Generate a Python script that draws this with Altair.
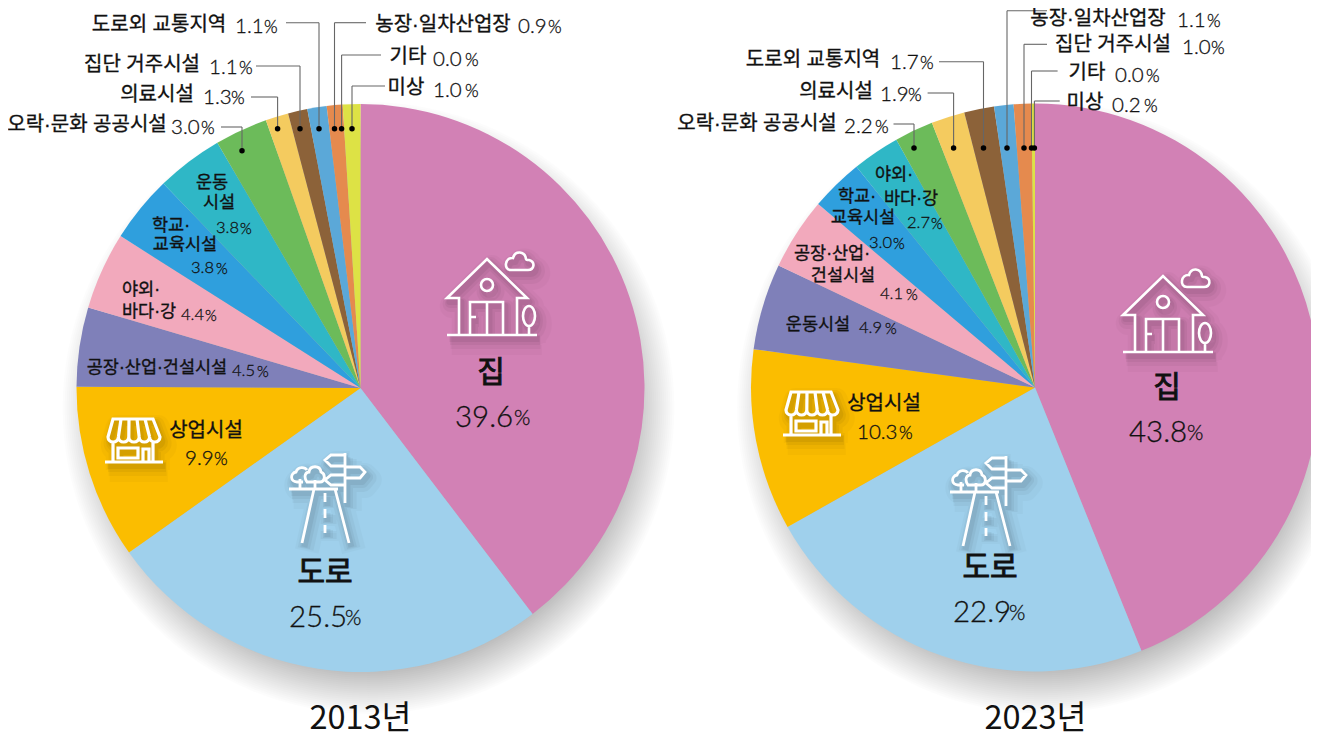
import math
import altair as alt
import pandas as pd

# ---------- data ----------
categories_2013 = ["집", "도로", "상업시설", "공장·산업·건설시설", "야외·바다·강", "학교·교육시설", "운동시설",
                   "오락·문화 공공시설", "의료시설", "집단 거주시설", "도로외 교통지역", "농장·일차산업장", "기타", "미상"]
values_2013 = [39.6, 25.5, 9.9, 4.5, 4.4, 3.8, 3.8, 3.0, 1.3, 1.1, 1.1, 0.9, 0.0, 1.0]
categories_2023 = ["집", "도로", "상업시설", "운동시설", "공장·산업·건설시설", "학교·교육시설", "야외·바다·강",
                   "오락·문화 공공시설", "의료시설", "도로외 교통지역", "농장·일차산업장", "집단 거주시설", "기타", "미상"]
values_2023 = [43.8, 22.9, 10.3, 4.9, 4.1, 3.0, 2.7, 2.2, 1.9, 1.7, 1.1, 1.0, 0.0, 0.2]
slice_colors = ["#D281B5", "#9FD0EC", "#FBBD00", "#7F80B9", "#F2A9BC", "#2F9FDD", "#2FB7C6",
                "#6CBB5A", "#F4CB5F", "#8C6239", "#5BA8D8", "#E58A4E", "#999999", "#DDE245"]

# ---------- layout ----------
W, H = 1303, 729
M = 8
R = 284
C1 = (360.5, 388)
C2 = (1035, 387.5)
KO = '"Liberation Sans", "Noto Sans CJK KR"'
YEAR = "Noto Sans CJK KR"
NUM = "Lato"
val13 = dict(zip(categories_2013, values_2013))
val23 = dict(zip(categories_2023, values_2023))


def pie(cats, vals, c):
    df = pd.DataFrame({"category": cats, "value": vals, "rank": list(range(1, len(cats) + 1))})
    return alt.Chart(df).mark_arc(radius=R, strokeWidth=0).encode(
        theta=alt.Theta("value:Q", stack="normalize"),
        order=alt.Order("rank:Q"),
        color=alt.Color("rank:O", scale=alt.Scale(domain=list(range(1, 15)), range=slice_colors), legend=None),
        x=alt.value(c[0] - M),
        y=alt.value(c[1] - M),
    )


# shadow discs
discs = []
for c in (C1, C2):
    for r in range(258, 308, 2):
        discs.append({"x": c[0] - M + 8, "y": c[1] - M + 20, "r": r})
shadow = alt.Chart(pd.DataFrame(discs)).mark_arc(theta=0, theta2=2 * math.pi, color="black", opacity=0.011).encode(
    x=alt.X("x:Q", scale=None, axis=None),
    y=alt.Y("y:Q", scale=None, axis=None),
    radius=alt.Radius("r:Q", scale=None, stack=False),
)

# icons: paths drawn in pixels around the anchor (size=4 gives unit scale)
HOUSE = ("M-40,35 H50 M-28,35 V-2 H-40 L0,-41 L40,-2 H30 V35 "
         "M-6,-15 A6,6 0 1,1 6,-15 A6,6 0 1,1 -6,-15 "
         "M-17,35 V2 H16 V35 M0,2 V35 M-17,17 H-11 "
         "M36,16 A6,10 0 1,1 48,16 A6,10 0 1,1 36,16 M42,26 V35 "
         "M24,-30 H41 C47,-30 49,-38 42,-40 C40,-40 39,-40 39,-41 C38,-49 28,-50 26,-42 C18,-43 16,-30 24,-30 Z")
ROAD = ("M-36,-8 H13 M-11,-8 L-23,46 M10,-8 L24,46 "
        "M0,-4 V5 M0,12 V21 M0,28 V36 M20,-44 V6 "
        "M20,-42 H6 L0,-37 L6,-31 H20 M20,-30 H35 L40,-25 L35,-19 H20 M20,-22 H6 L0,-17 L6,-12 H20 "
        "M-25,-8 V-18 M-10,-8 V-17 "
        "M-22,-15 H-28 C-35,-15 -35,-24 -29,-25 C-27,-31 -20,-30 -18,-27 "
        "M-18,-15 C-22,-21 -19,-25 -16,-25 C-15,-32 -5,-32 -4,-25 C1,-23 0,-15 -5,-15 H-18 Z")
SHOP = ("M-29,22 H29 M-21,-21 H19 L26,-3 A5.2,5 0 0,1 15.6,-3 A5.2,5 0 0,1 5.2,-3 A5.2,5 0 0,1 -5.2,-3 "
        "A5.2,5 0 0,1 -15.6,-3 A5.2,5 0 0,1 -26,-3 Z "
        "M-13,-21 L-15.6,-3 M-5,-21 L-5.2,-3 M3,-21 L5.2,-3 M11,-21 L15.6,-3 "
        "M-21,2 V22 M19,2 V22 M-16,8 H4 V18 H-16 Z M9,22 V9 H15 V22")


def icon(path, ax, ay, sw):
    out = []
    one = pd.DataFrame({"x": [ax - M], "y": [ay - M]})
    for w, o, d in ((24, 0.02, 8), (16, 0.03, 6), (10, 0.04, 5), (6, 0.05, 4)):
        out.append(alt.Chart(one).mark_point(shape=path, size=4, filled=False, stroke="#000000",
                                             strokeWidth=w, opacity=o, strokeJoin="round").encode(
            x=alt.value(ax - M + d * 0.6), y=alt.value(ay - M + d)))
    out.append(alt.Chart(one).mark_point(shape=path, size=4, filled=False, stroke="white", strokeWidth=sw,
                                         opacity=1).encode(x=alt.value(ax - M), y=alt.value(ay - M)))
    return out


icons = []
for p, ax, ay, sw in ((HOUSE, 487, 300, 2.6), (ROAD, 325, 497, 2.8), (SHOP, 134, 440, 3.2),
                      (HOUSE, 1163, 317, 2.6), (ROAD, 986, 500, 2.8), (SHOP, 812, 413, 3.2)):
    icons += icon(p, ax, ay, sw)

# outer labels: category, name centre x, name y, number left, percent left, number y, elbow points, dot
outer = [
    (val13, "도로외 교통지역", 159, 25, 235, 264, 27, (286, 22.7), (319, 128.7)),
    (val13, "농장·일차산업장", 443, 25, 518, 548, 27, (366, 22.7), (334.5, 128.7)),
    (val13, "기타", 408, 57, 433, 465, 60, (381, 55), (341.6, 128.7)),
    (val13, "미상", 406, 88, 433, 465, 91, (385, 86), (352, 128.7)),
    (val13, "집단 거주시설", 142, 65, 209, 239, 68, (256, 66), (300, 128.7)),
    (val13, "의료시설", 157, 95, 203, 231, 98, (251, 97), (277.6, 128.7)),
    (val13, "오락·문화 공공시설", 87, 125, 171, 201, 128, (221, 127), (242, 150.7)),
    (val23, "농장·일차산업장", 1098, 19, 1177, 1207, 21, (1047, 10.7), (1007, 148)),
    (val23, "집단 거주시설", 1113, 45, 1182, 1211, 48, (1047, 44.3), (1024, 148)),
    (val23, "기타", 1087, 73, 1115, 1146, 76, (1057.6, 71), (1031.5, 148)),
    (val23, "미상", 1085, 103, 1112, 1144, 106, (1059.7, 101), (1034.4, 148)),
    (val23, "도로외 교통지역", 813, 60, 890, 920, 63, (939, 61.7), (983.5, 148)),
    (val23, "의료시설", 836, 92, 880, 908, 95, (927.6, 93), (953.6, 148)),
    (val23, "오락·문화 공공시설", 757, 124, 844, 875, 127, (893.5, 124), (914, 148)),
]
# inner labels: lines (text, centre x, y), number left, percent left, number y
inner = [
    (val13, "운동시설", [("운동", 212, 183), ("시설", 219, 203)], 216, 240, 228),
    (val13, "학교·교육시설", [("학교·", 171, 226), ("교육시설", 185, 245)], 191, 216, 268),
    (val13, "야외·바다·강", [("야외·", 141, 290), ("바다·강", 149, 312)], 181, 205, 315),
    (val13, "공장·산업·건설시설", [("공장·산업·건설시설", 157, 368)], 232, 257, 371),
    (val23, "운동시설", [("운동시설", 818, 325)], 859, 885, 328),
    (val23, "공장·산업·건설시설", [("공장·산업·", 832, 254), ("건설시설", 843, 276)], 880, 906, 294),
    (val23, "학교·교육시설", [("학교·", 857, 197), ("교육시설", 863, 218)], 869, 893, 243),
    (val23, "야외·바다·강", [("야외·", 894, 175), ("바다·강", 911, 199)], 907, 931, 223),
]
# larger labels: text, centre x, y, size, bold, number left, percent left, number y, number size, percent size
major = [
    (val13, "상업시설", 206, 431, 20, "normal", 185, 214, 459, 20.5, 17.5),
    (val13, "집", 491, 373, 30, "bold", 455, 514, 418, 29.5, 21),
    (val13, "도로", 325, 573, 30, "bold", 289, 345, 618, 29.5, 21),
    (val23, "상업시설", 884, 404, 20, "normal", 857, 899, 433, 20.5, 17.5),
    (val23, "집", 1167, 388, 30, "bold", 1129, 1187, 433, 29.5, 21),
    (val23, "도로", 990, 568, 30, "bold", 953, 1009, 613, 29.5, 21),
]
years = [("2013년", 360.5, 719), ("2023년", 1035.5, 719)]

names, nums, bolds, segs, dots, year_rows = [], [], [], [], [], []
def px(x): return x - M
for vals, cat, nx, ny, a, b, vy, start, dot in outer:
    names.append({"x": px(nx), "y": px(ny), "t": cat, "s": 20})
    nums.append({"x": px(a), "y": px(vy), "t": f"{vals[cat]:.1f}", "s": 20.5})
    nums.append({"x": px(b), "y": px(vy + 1), "t": "%", "s": 17.5})
    segs.append({"x": px(start[0]), "x2": px(dot[0]), "y": px(start[1]), "y2": px(start[1])})
    segs.append({"x": px(dot[0]), "x2": px(dot[0]), "y": px(start[1]), "y2": px(dot[1])})
    dots.append({"x": px(dot[0]), "y": px(dot[1])})
for vals, cat, lines, a, b, vy in inner:
    for t, nx, ny in lines:
        names.append({"x": px(nx), "y": px(ny), "t": t, "s": 17.5})
    nums.append({"x": px(a), "y": px(vy), "t": f"{vals[cat]:.1f}", "s": 16.5})
    nums.append({"x": px(b), "y": px(vy + 1), "t": "%", "s": 15})
for vals, cat, nx, ny, s, w, a, b, vy, ns, ps in major:
    (bolds if w == "bold" else names).append({"x": px(nx), "y": px(ny), "t": cat, "s": s})
    nums.append({"x": px(a), "y": px(vy), "t": f"{vals[cat]:.1f}", "s": ns})
    nums.append({"x": px(b), "y": px(vy + 1), "t": "%", "s": ps})
for t, x, y in years:
    year_rows.append({"x": px(x), "y": px(y), "t": t, "s": 32.5})


def text_layer(rows, font, align="center", weight="normal", stroke=0.0):
    kw = {"stroke": "#111111", "strokeWidth": stroke} if stroke else {}
    return alt.Chart(pd.DataFrame(rows)).mark_text(font=font, align=align, baseline="middle", fontWeight=weight,
                                                   color="#111111", **kw).encode(
        x=alt.X("x:Q", scale=None, axis=None),
        y=alt.Y("y:Q", scale=None, axis=None),
        text="t:N",
        size=alt.Size("s:Q", scale=None, legend=None),
    )


leaders = alt.Chart(pd.DataFrame(segs)).mark_rule(color="#666666", strokeWidth=1.1).encode(
    x=alt.X("x:Q", scale=None, axis=None), x2="x2:Q",
    y=alt.Y("y:Q", scale=None, axis=None), y2="y2:Q")
dot_layer = alt.Chart(pd.DataFrame(dots)).mark_circle(size=30, color="black", opacity=1).encode(
    x=alt.X("x:Q", scale=None, axis=None), y=alt.Y("y:Q", scale=None, axis=None))

chart = alt.layer(
    shadow, pie(categories_2013, values_2013, C1), pie(categories_2023, values_2023, C2),
    *icons, leaders, dot_layer,
    text_layer(names, KO, stroke=0.35), text_layer(bolds, KO, stroke=0.9), text_layer(year_rows, YEAR),
    text_layer(nums, NUM, align="left", weight=300, stroke=0.3),
).properties(width=W, height=H, padding=0, autosize=alt.AutoSizeParams(type="none"), background="white"
).configure_view(stroke=None)

chart.save("out.html", embed_options={"renderer": "svg", "actions": False})
